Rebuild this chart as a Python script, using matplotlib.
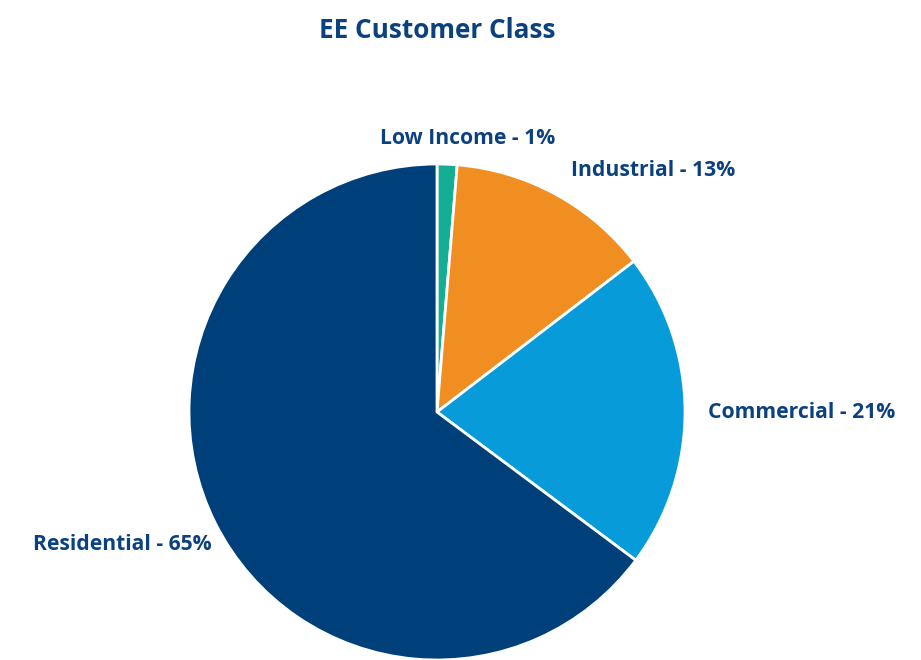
import matplotlib
matplotlib.use("Agg")
import matplotlib.pyplot as plt

categories = ["Low Income", "Industrial", "Commercial", "Residential"]
values = [1.3, 13.3, 20.6, 64.8]
label_texts = ["Low Income - 1%", "Industrial - 13%", "Commercial - 21%", "Residential - 65%"]
colors = ["#13AE93", "#F18E22", "#079CD9", "#00407A"]
title = "EE Customer Class"

text_color = "#0C4180"
font = "Open Sans"

fig = plt.figure(figsize=(9.21, 6.6), dpi=100)
ax = fig.add_axes([0, 0, 1, 1])

ax.pie(values, colors=colors, startangle=90, counterclock=False,
       center=(437, 248), radius=248, frame=True,
       wedgeprops=dict(edgecolor="white", linewidth=2))
ax.set_xlim(0, 921)
ax.set_ylim(0, 660)
ax.axis("off")

label_pos = [(468, 521), (653, 490), (802, 247), (122, 115)]
for txt, (x, y) in zip(label_texts, label_pos):
    ax.text(x, y, txt, ha="center", va="center", fontsize=15.2, fontweight="bold",
            color=text_color, family=font)

ax.text(437, 630, title, ha="center", va="center", fontsize=18.8, fontweight="bold",
        color=text_color, family=font)

fig.savefig("out.png", dpi=100)
